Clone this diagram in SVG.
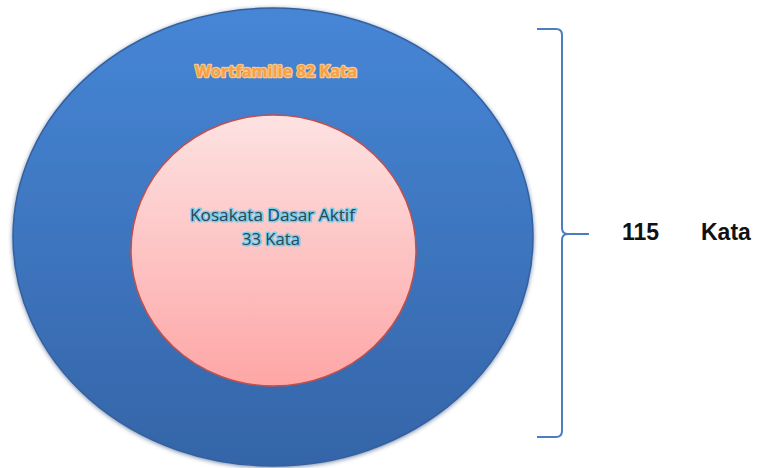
<svg xmlns="http://www.w3.org/2000/svg" width="758" height="468" viewBox="0 0 758 468">
<style>
.lbl{font-family:"Open Sans","Liberation Sans",sans-serif;text-anchor:middle;paint-order:stroke;stroke-linejoin:round}
.orange{font-size:16px;font-weight:bold;fill:#F7A045;stroke:#F6C88E;stroke-width:2.5px}
.slate{font-size:16px;fill:#2E4653;stroke:#7FCDEB;stroke-width:3px}
.big{font-family:"Liberation Sans",Arial,sans-serif;font-size:23px;font-weight:bold;fill:#111}
</style>
<defs>
<linearGradient id="gOut" x1="0" y1="0" x2="0" y2="1">
<stop offset="0" stop-color="#4686D6"/>
<stop offset="1" stop-color="#3565A8"/>
</linearGradient>
<linearGradient id="gIn" x1="0" y1="0" x2="0" y2="1">
<stop offset="0" stop-color="#FDE2E2"/>
<stop offset="1" stop-color="#FEA6A6"/>
</linearGradient>
<filter id="sh" x="-10%" y="-10%" width="120%" height="120%">
<feGaussianBlur in="SourceAlpha" stdDeviation="2"/>
<feOffset dy="1" result="b"/>
<feFlood flood-color="#1d3c6b" flood-opacity="0.6"/>
<feComposite in2="b" operator="in"/>
<feMerge><feMergeNode/><feMergeNode in="SourceGraphic"/></feMerge>
</filter>
</defs>
<rect width="758" height="468" fill="#fff"/>
<g id="outer">
<ellipse cx="273" cy="237" rx="260" ry="229" fill="url(#gOut)" stroke="#3461A0" stroke-width="1.5" filter="url(#sh)"/>
<text class="lbl orange" x="276" y="77" textLength="162" lengthAdjust="spacingAndGlyphs">Wortfamilie 82 Kata</text>
</g>
<g id="inner">
<ellipse cx="273.5" cy="250.5" rx="142.5" ry="135.5" fill="url(#gIn)" stroke="#C0504D" stroke-width="1.5"/>
<text class="lbl slate" x="272.5" y="221" textLength="165" lengthAdjust="spacingAndGlyphs">Kosakata Dasar Aktif</text>
<text class="lbl slate" x="271" y="245" textLength="58" lengthAdjust="spacingAndGlyphs">33 Kata</text>
</g>
<g id="connectors">
<path d="M537 29 L556 29 Q562 29 562 35 L562 228 Q562 234 568 234 L589 234 M568 234 Q562 234 562 240 L562 431 Q562 437 556 437 L537 437" fill="none" stroke="#4A7EC0" stroke-width="2"/>
</g>
<g id="total">
<text class="big" x="622" y="240">115</text>
<text class="big" x="701" y="240">Kata</text>
</g>
</svg>
